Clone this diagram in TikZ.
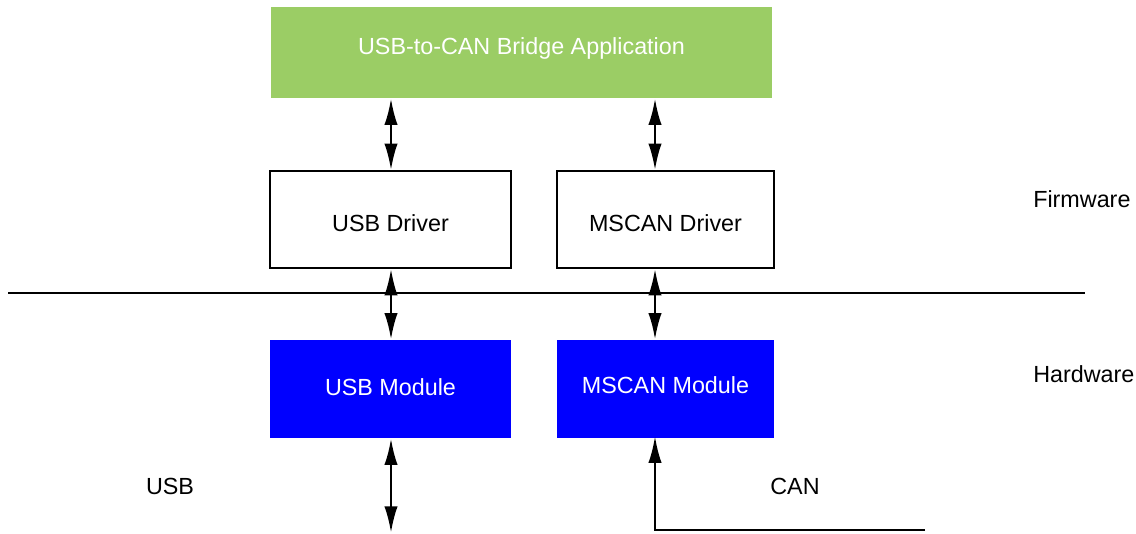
\documentclass[tikz,border=0pt]{standalone}
\usepackage{fontspec}
\setmainfont{Liberation Sans}
\usetikzlibrary{arrows.meta}
\definecolor{appgreen}{RGB}{155,205,101}
\definecolor{modblue}{RGB}{0,0,255}
\tikzset{
  drvbox/.style={draw=black, line width=1.1pt, minimum height=97*0.75pt, inner sep=0pt},
  modbox/.style={fill=modblue, text=white, minimum height=98*0.75pt, inner sep=0pt},
  sidelabel/.style={anchor=west, inner sep=0pt},
  biarrow/.style={line width=2pt, {Latex[length=20pt,width=10pt]}-{Latex[length=20pt,width=10pt]}},
  uparrow/.style={line width=1.7pt, -{Latex[length=20pt,width=10pt]}},
}
\begin{document}
\begin{tikzpicture}[x=0.75pt,y=0.75pt,yscale=-1,xscale=1,font=\fontsize{17.5}{21}\selectfont]
  \useasboundingbox (0,0) rectangle (1136,533);
  %Application
  \node[fill=appgreen, text=white, minimum width=501*0.75pt, minimum height=91*0.75pt, inner sep=0pt] (app) at (521.5,52.5) {};
  \node (apptext) at (521.5,48) {\textcolor{white}{USB-to-CAN Bridge Application}};
  %Drivers
  \node[drvbox, minimum width=241*0.75pt] (usbdrv) at (390.5,219.5) {};
  \node (usbdrvtext) at (390.5,223) {USB Driver};
  \node[drvbox, minimum width=217*0.75pt] (candrv) at (665.5,219.5) {};
  \node (candrvtext) at (665.5,223) {MSCAN Driver};
  %Modules
  \node[modbox, minimum width=241*0.75pt] (usbmod) at (390.5,389) {};
  \node[text=white] (usbmodtext) at (390.5,387) {USB Module};
  \node[modbox, minimum width=217*0.75pt] (canmod) at (665.5,389) {};
  \node[text=white] (canmodtext) at (665.5,385) {MSCAN Module};
  %Separator
  \coordinate (sepl) at (8,293);
  \coordinate (sepr) at (1085,293);
  \draw[line width=1.6pt] (sepl) -- (sepr);
  %Labels
  \node[sidelabel] (fw) at (1033,199) {Firmware};
  \node[sidelabel] (hw) at (1033,374) {Hardware};
  \node (usblabel) at (170,486) {USB};
  \node (canlabel) at (795,486) {CAN};
  %Arrows
  \coordinate (usbx) at (391,0);
  \coordinate (canx) at (655,0);
  \coordinate (usbend) at (391,533);
  \coordinate (canend) at (925,530);
  \draw[biarrow] (app.south -| usbx) -- (usbdrv.north -| usbx);
  \draw[biarrow] (app.south -| canx) -- (candrv.north -| canx);
  \draw[biarrow] (usbdrv.south -| usbx) -- (usbmod.north -| usbx);
  \draw[biarrow] (candrv.south -| canx) -- (canmod.north -| canx);
  \draw[biarrow] (usbmod.south -| usbx) -- (usbend);
  \draw[uparrow] (canend) -- (canend -| canx) -- ([yshift=-1.5pt]canmod.south -| canx);
\end{tikzpicture}
\end{document}
